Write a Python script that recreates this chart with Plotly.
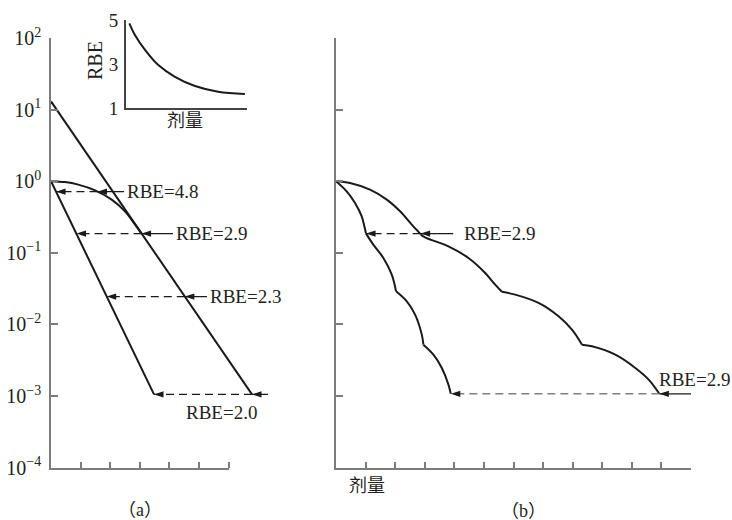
import plotly.graph_objects as go
import numpy as np

W, H = 732, 520

# ---------------- data ----------------
# panel (a): single-dose survival curves
a_high_dose = [0.0, 3.48]                 # high-LET, straight on log scale
a_high_surv = [1.0, 0.00105]
a_line_dose = [0.0, 6.79]                 # low-LET exponential tail (extrapolated)
a_line_surv = [13.0, 0.00105]
a_shoulder_dose = [0.0, 0.47, 0.92, 1.49, 2.05, 2.50, 2.84, 3.06]
a_shoulder_surv = [1.0, 0.97, 0.894, 0.744, 0.552, 0.379, 0.247, 0.185]

a_rbe_labels = ["RBE=4.8", "RBE=2.9", "RBE=2.3", "RBE=2.0"]
a_rbe_level = [0.713, 0.185, 0.0244, 0.00105]
a_rbe_dose_high = [0.17, 0.86, 1.88, 3.48]
a_rbe_dose_low = [1.57, 3.06, 4.52, 6.79]

# panel (b): fractionated curves, one list per fraction
b_high_frac_dose = [
    [0.0, 0.362, 0.643, 0.87, 0.958, 1.015],
    [1.015, 1.262, 1.601, 1.885, 2.03],
    [2.03, 2.393, 2.673, 2.9, 2.954],
    [2.954, 3.293, 3.577, 3.8, 3.88],
]
b_high_frac_surv = [
    [1.0, 0.72, 0.496, 0.322, 0.234, 0.185],
    [0.185, 0.1298, 0.0845, 0.0494, 0.0289],
    [0.0289, 0.0209, 0.01365, 0.00718, 0.0052],
    [0.0052, 0.00377, 0.00246, 0.00144, 0.00107],
]
b_low_frac_dose = [
    [0.0, 0.474, 1.151, 1.716, 2.166, 2.562, 2.86],
    [2.86, 3.012, 3.80, 4.477, 5.042, 5.381, 5.607],
    [5.607, 6.058, 6.846, 7.523, 7.976, 8.315],
    [8.315, 8.653, 9.442, 10.118, 10.569, 10.93],
]
b_low_frac_surv = [
    [1.0, 0.944, 0.761, 0.552, 0.379, 0.247, 0.182],
    [0.182, 0.164, 0.1227, 0.0845, 0.0522, 0.0358, 0.0285],
    [0.0285, 0.026, 0.0199, 0.01294, 0.00843, 0.0052],
    [0.0052, 0.00493, 0.00377, 0.00246, 0.00169, 0.00107],
]
b_rbe_labels = ["RBE=2.9", "RBE=2.9"]
b_rbe_level = [0.185, 0.00107]
b_rbe_dose_high = [1.015, 3.88]
b_rbe_dose_low = [2.86, 10.93]

# inset: RBE vs dose
inset_dose = [0.03, 0.076, 0.159, 0.268, 0.405, 0.57, 0.76, 0.98]
inset_rbe = [4.85, 4.32, 3.64, 2.95, 2.42, 2.0, 1.74, 1.64]

y_tickvals = [1e-4, 1e-3, 1e-2, 1e-1, 1e0, 1e1, 1e2]
y_ticktext = ["10<sup>−4</sup>", "10<sup>−3</sup>", "10<sup>−2</sup>", "10<sup>−1</sup>",
              "10<sup>0</sup>", "10<sup>1</sup>", "10<sup>2</sup>"]

# ---------------- layout positions (pixels -> paper) ----------------
def px(x):
    return x / W

def py(y):
    return 1 - y / H

UNIT = 29.6
A_X0, A_X1 = 51, 290
B_X0, B_X1 = 336, 691
Y_TOP, Y_BOT = 38, 467.5

# label / arrow-tail placement (dose units)
a_tail = [2.47, 4.12, 5.27, 7.33]
a_label_pos = [(2.50, 0.713), (4.16, 0.185), (5.30, 0.0244), (4.50, 10 ** -3.233)]
b_tail = [3.96, 12.0]
b_label_pos = [(4.27, 0.185), (10.84, 0.00169)]

CURVE = "#1a1a1a"
AXC = "#7c7c7c"
TXT = "#231f20"
SERIF = "Liberation Serif, Times New Roman, Noto Sans CJK SC, serif"

fig = go.Figure()


def line(x, y, xa, ya, width=2, color=CURVE, dash=None, shape="linear"):
    fig.add_trace(go.Scatter(x=x, y=y, xaxis=xa, yaxis=ya, mode="lines",
                             line=dict(color=color, width=width, dash=dash, shape=shape),
                             hoverinfo="skip", showlegend=False))


def heads(x, y, xa, ya, color=CURVE):
    fig.add_trace(go.Scatter(x=x, y=y, xaxis=xa, yaxis=ya, mode="markers",
                             marker=dict(symbol="arrow", angle=-90, size=10, color=color,
                                         line=dict(width=0)),
                             hoverinfo="skip", showlegend=False))


# dummy trace to carry the short x-axis line of panel (a)
fig.add_trace(go.Scatter(x=[0], y=[1], xaxis="x4", yaxis="y", mode="markers",
                         marker=dict(opacity=0), hoverinfo="skip", showlegend=False))

# panel (a) curves
line(a_high_dose, a_high_surv, "x", "y")
line(a_line_dose, a_line_surv, "x", "y")
line(a_shoulder_dose, a_shoulder_surv, "x", "y", shape="spline")

# panel (a) RBE arrows
for i in range(len(a_rbe_labels)):
    lev = a_rbe_level[i]
    line([a_tail[i], a_rbe_dose_low[i]], [lev, lev], "x", "y", width=1.2)
    line([a_rbe_dose_low[i], a_rbe_dose_high[i]], [lev, lev], "x", "y", width=1.2,
         dash="8px,5px")
    heads([a_rbe_dose_low[i], a_rbe_dose_high[i]], [lev, lev], "x", "y")

# panel (b) curves
def join(segs):
    out = []
    for k, s in enumerate(segs):
        if k:
            out.append(None)
        out.extend(s)
    return out

line(join(b_high_frac_dose), join(b_high_frac_surv), "x2", "y2", shape="spline")
line(join(b_low_frac_dose), join(b_low_frac_surv), "x2", "y2", shape="spline")

for i in range(len(b_rbe_labels)):
    lev = b_rbe_level[i]
    dcol = CURVE if i == 0 else "#808080"
    line([b_tail[i], b_rbe_dose_low[i]], [lev, lev], "x2", "y2", width=1.2)
    line([b_rbe_dose_low[i], b_rbe_dose_high[i]], [lev, lev], "x2", "y2", width=1.4,
         dash="8px,5px", color=dcol)
    heads([b_rbe_dose_low[i]], [lev], "x2", "y2")
    heads([b_rbe_dose_high[i]], [lev], "x2", "y2")

# inset
line(inset_dose, inset_rbe, "x3", "y3", shape="spline")

# annotations
ann = []
for i, t in enumerate(a_rbe_labels):
    x, y = a_label_pos[i]
    ann.append(dict(text=t, x=x, y=np.log10(y), xref="x", yref="y", showarrow=False,
                    xanchor="left", yanchor="middle", font=dict(family=SERIF, size=19, color=TXT)))
for i, t in enumerate(b_rbe_labels):
    x, y = b_label_pos[i]
    ann.append(dict(text=t, x=x, y=np.log10(y), xref="x2", yref="y2", showarrow=False,
                    xanchor="left", yanchor="middle", font=dict(family=SERIF, size=19, color=TXT)))


def plabel(text, x, y, size, angle=0):
    return dict(text=text, x=px(x), y=py(y), xref="paper", yref="paper", showarrow=False,
                xanchor="center", yanchor="middle", textangle=angle,
                font=dict(family=SERIF, size=size, color=TXT))


ann += [
    plabel("（a）", 140, 510, 18),
    plabel("（b）", 523, 511, 18),
    plabel("剂量", 367, 486, 18),
    plabel("剂量", 185, 121, 18),
    plabel("RBE", 95, 61, 20, angle=-90),
]

ydom = [py(Y_BOT), py(Y_TOP)]
yax_common = dict(type="log", range=[-4, 2], domain=ydom, showline=True, linecolor=AXC,
                  linewidth=1.5, ticks="inside", ticklen=7, tickwidth=1.5, tickcolor=AXC,
                  tickvals=y_tickvals, showgrid=False, zeroline=False)

fig.update_layout(
    width=W, height=H, margin=dict(l=0, r=0, t=0, b=0, pad=0, autoexpand=False),
    paper_bgcolor="white", plot_bgcolor="rgba(0,0,0,0)", showlegend=False,
    xaxis=dict(domain=[px(A_X0), px(A_X1)], range=[0, (A_X1 - A_X0) / UNIT], anchor="y",
               showline=False, ticks="inside", ticklen=6, tickwidth=1.5, tickcolor=AXC,
               tickvals=[1, 2, 3, 4, 5, 6], showticklabels=False, showgrid=False,
               zeroline=False),
    yaxis=dict(**yax_common, anchor="x", ticktext=y_ticktext, showticklabels=True,
               tickfont=dict(family=SERIF, size=20, color=TXT), ticklabelstandoff=4),
    xaxis2=dict(domain=[px(B_X0), px(B_X1)], range=[0, 12], anchor="y2", showline=True,
                linecolor=AXC, linewidth=1.5, ticks="inside", ticklen=6, tickwidth=1.5,
                tickcolor=AXC, tickvals=list(range(1, 13)), showticklabels=False,
                showgrid=False, zeroline=False),
    yaxis2=dict(**yax_common, anchor="x2", showticklabels=False),
    xaxis3=dict(domain=[px(125.7), px(247.3)], range=[0, 1], anchor="y3", showline=True,
                linecolor="#444", linewidth=1.5, ticks="", showticklabels=False,
                showgrid=False, zeroline=False),
    yaxis3=dict(domain=[py(108), py(20)], range=[1, 5], anchor="x3", showline=True,
                linecolor="#444", linewidth=1.5, ticks="", tickvals=[1, 3, 5],
                tickfont=dict(family=SERIF, size=19, color=TXT), showgrid=False,
                zeroline=False, ticklabelstandoff=2),
    xaxis4=dict(domain=[px(A_X0), px(229)], range=[0, 1], anchor="y", showline=True,
                linecolor=AXC, linewidth=1.5, ticks="", showticklabels=False,
                showgrid=False, zeroline=False),
    annotations=ann,
)

fig.write_html("out.html")
